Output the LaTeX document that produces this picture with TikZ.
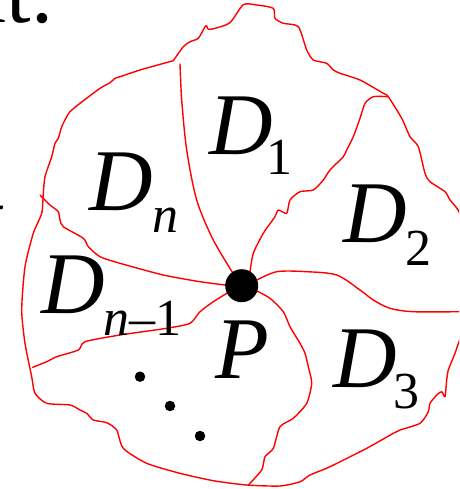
\documentclass[tikz,border=0pt]{standalone}
\usepackage{fontspec}
\setmainfont{Liberation Serif}
\begin{document}
\begin{tikzpicture}[x=1pt,y=-1pt,
  bnd/.style={draw=red,line width=1.4pt,line join=round,line cap=round},
  big/.style={inner sep=0pt,anchor=base west,font=\fontsize{88}{88}\selectfont},
  sub/.style={inner sep=0pt,anchor=base west,font=\fontsize{52}{52}\selectfont},
  pdot/.style={circle,fill=black,inner sep=0pt,minimum size=33pt},
  sdot/.style={circle,fill=black,inner sep=0pt,minimum size=10.5pt}]
\useasboundingbox (0,0) rectangle (459,489);
\clip (0,0) rectangle (459,489);
% cropped surrounding text
\node[big] (ttop) at (-37.4,22.7) {nt.};
\node[big] (tleft) at (-23,246) {\itshape t};
% outer boundary
\draw[bnd] plot[smooth,tension=0.4] coordinates {
 (173.3,60.7) (183.3,46.7) (190,41.7) (198.3,38.3) (205,26.7) (206.7,26) (208.3,29.3)
 (215,28.3) (230,22.7) (243.3,4.7) (256.7,5) (273.3,8.3) (275,18.3) (283.3,23.3)
 (298.3,26.7) (306.7,50) (313.3,60) (326.7,63.3) (333.3,70) (340,73.3) (360,80)
 (383.3,93.3) (388.3,96.7) (401.7,118.3) (410,136.7) (418.3,146.7) (425,173.3)
 (430,181.7) (445,191.7) (450,200) (459,211.7) (468,240) (470,280) (468,320)
 (459,341.7) (455,353.3) (448.3,370) (446.7,380) (445,396.7) (441.7,391.7)
 (436.7,395) (430,403.3) (428.3,411.7) (420,423.3) (400,430) (393.3,433.3)
 (366.7,448.3) (330,466.7) (310,475) (300,481.7) (280,486) (246.7,485)
 (213.3,480.7) (180,473.3) (146.7,463.3) (123.3,448.3) (116.7,430) (106.7,422.7)
 (93.3,420) (86.7,413.3) (80,410) (70,405) (46.7,403.3) (35,393.3) (31.7,376.7)
 (25,343.3) (21.7,310) (25,266.7) (33.3,233.3) (41.7,213.3) (43.3,193.3) (45,176.7)
 (51.7,156.7) (55,143.3) (58.3,138.3) (61.7,126.7) (66.7,116.7) (70,111.7)
 (80,103.3) (100,88.3) (110,82.7) (115,78.3) (118.3,77.3) (140,70) (173.3,60.7)};
% inner boundaries
\draw[bnd] plot[smooth,tension=0.5] coordinates {
 (236,278) (213.3,240) (196.7,200) (186.7,150) (181.7,100) (180,64)};
\draw[bnd] plot[smooth,tension=0.4] coordinates {
 (250,272) (253.3,253.3) (263.3,233.3) (275,216.7) (278.3,210) (286.7,213.3)
 (290,200) (300,191.7) (313.3,190) (323.3,180) (330,170) (343.3,156.7) (346.7,150)
 (353.3,136.7) (360,118.3) (365,103.3) (373.3,96.7) (388.3,96.7)};
\draw[bnd] plot[smooth,tension=0.5] coordinates {
 (255,281) (276.7,271.7) (306.7,271.7) (336.7,275) (360,290) (373.3,300)
 (390,308.3) (413.3,311.7) (459,311.7)};
\draw[bnd] plot[smooth,tension=0.4] coordinates {
 (255,290) (270,298.3) (283.3,311.7) (290,326.7) (300,343.3) (305,353.3)
 (308.3,366.7) (311.7,383.3) (306.7,403.3) (293.3,418.3) (280,426.7) (273.3,448.3)
 (265,456.7) (261.7,470) (248.3,485)};
\draw[bnd] plot[smooth,tension=0.4] coordinates {
 (229,292) (213.3,301.7) (200,311.7) (190,323.3) (166.7,328.3) (120,335)
 (85,341.7) (78.3,350) (56.7,356.7) (46.7,361.7) (32.7,367.3)};
\draw[bnd] plot[smooth,tension=0.4] coordinates {
 (229,285.5) (200,281.7) (163.3,275) (120,263.3) (100,256.7) (88.3,246.7)
 (83.3,238.3) (63.3,226.7) (60,220) (58.3,211.7) (50,205) (40,195)};
% point P
\node[pdot] (Pdot) at (241.7,285.7) {};
% labels
\node[big] (D1) at (209.6,154) {\itshape D};
\node[sub] (s1) at (266,175) {1};
\node[big] (Dn) at (89.6,210) {\itshape D};
\node[sub] (sn) at (152,232) {\itshape n};
\node[big] (D2) at (343,242) {\itshape D};
\node[sub] (s2) at (405,265) {2};
\node[big] (Dm) at (41.3,313) {\itshape D};
\node[sub] (sm) at (103,335) {{\itshape n}–1};
\node[big] (D3) at (333,387) {\itshape D};
\node[sub] (s3) at (393,408) {3};
\node[big] (P) at (215,378) {\itshape P};
% dots
\node[sdot] (d1) at (140,376.7) {};
\node[sdot] (d2) at (170,406) {};
\node[sdot] (d3) at (200,436) {};
\end{tikzpicture}
\end{document}
